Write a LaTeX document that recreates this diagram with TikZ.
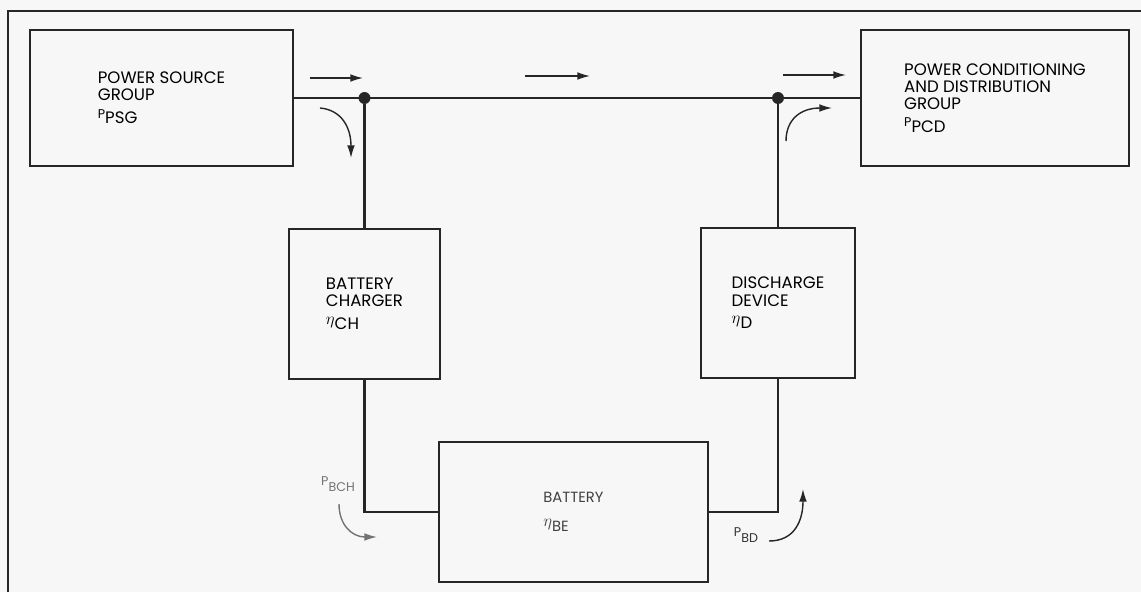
\documentclass[tikz,border=0pt]{standalone}
\usepackage{fontspec}
\setmainfont{Poppins}
\usetikzlibrary{arrows.meta}
\newcommand{\pwrsub}[2]{{\small #1}\raisebox{-4pt}{#2}}
\newcommand{\effsub}[1]{{\large$\eta$}\raisebox{-4pt}{#1}}
\tikzset{
      groupbox/.style={
        draw=black!85,
        line width=1.4pt,
        align=left,
        inner sep=0pt,
        font=\fontsize{11.8}{12.3}\selectfont
      },
      busline/.style={line width=1.9pt, draw=black!85},
      flowarrow/.style={-{Latex[length=9pt,width=5.5pt]}, line width=1pt, draw=black!85},
      junction/.style={circle, fill=black!85, inner sep=0pt, minimum size=8.5pt},
      powerlabel/.style={text=black!55, font=\fontsize{9}{10}\selectfont, inner sep=0pt}
    }
\begin{document}
\begin{tikzpicture}[x=0.025cm,y=-0.025cm]
    \useasboundingbox (0,0) rectangle (1141,592);
    \fill[black!3] (0,0) rectangle (1141,592);
    \draw[line width=1.3pt, black!85] (8,592) -- (8,11) -- (1141,11);
    \node[groupbox, minimum width=6.575cm, minimum height=3.375cm] (psg) at (161.5,98) {POWER SOURCE\\GROUP\\\pwrsub{P}{PSG}};
    \node[groupbox, minimum width=6.7cm, minimum height=3.4cm] (pcd) at (995,98) {POWER CONDITIONING\\AND DISTRIBUTION\\GROUP\\\pwrsub{P}{PCD}};
    \node[groupbox, minimum width=3.775cm, minimum height=3.75cm] (chg) at (364.5,304) {BATTERY\\CHARGER\\\effsub{CH}};
    \node[groupbox, minimum width=3.85cm, minimum height=3.75cm] (dis) at (778,303) {DISCHARGE\\DEVICE\\\effsub{D}};
    \node[groupbox, text=black!75, font=\fontsize{10.5}{12}\selectfont, minimum width=6.725cm, minimum height=3.5cm] (bat) at (573.5,512) {BATTERY\\[5pt]\effsub{BE}};
    \node[junction] (j1) at (364.5,98) {};
    \node[junction] (j2) at (778,98) {};
    \draw[busline] (psg.east) -- (pcd.west);
    \draw[busline] (j1) -- (chg.north);
    \draw[busline] (j2) -- (dis.north);
    \draw[busline] (chg.south) |- (bat.west);
    \draw[busline] (bat.east) -| (dis.south);
    \node[powerlabel] (pbch) at (338,484) {\pwrsub{P}{BCH}};
    \node[powerlabel, text=black!80] (pbd) at (746,535) {\pwrsub{P}{BD}};
    \draw[flowarrow] (310,78) -- (363,78);
    \draw[flowarrow] (525,76) -- (590,76);
    \draw[flowarrow] (783,75) -- (846,75);
    \draw[flowarrow] (320,108) .. controls (342,110) and (351,128) .. (351,158);
    \draw[flowarrow] (786,141) .. controls (786,120) and (800,108) .. (832,108);
    \draw[flowarrow, draw=black!55] (339,504) .. controls (339,525) and (352,537) .. (377,537);
    \draw[flowarrow] (769,541) .. controls (795,541) and (803,520) .. (803,489);
    \end{tikzpicture}
\end{document}
